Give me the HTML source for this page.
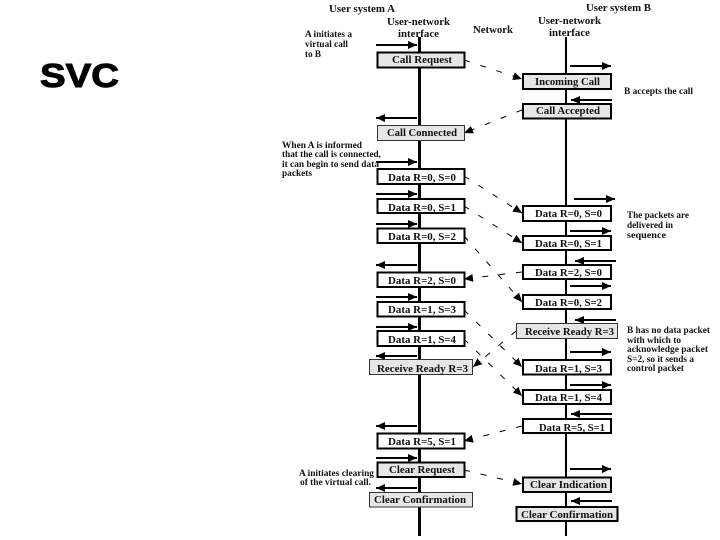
<!DOCTYPE html>
<html>
<head>
<meta charset="utf-8">
<style>
html,body{margin:0;padding:0;background:#fff;width:720px;height:540px;overflow:hidden}
svg{display:block}
text{font-family:"Liberation Serif",serif;fill:#111}
.h{font-size:10.5px;font-weight:bold}
.n{font-size:9px;font-weight:bold}
.b{font-size:11px;font-weight:bold}
.s{stroke:#000;stroke-width:2;fill:none}
.d{stroke:#000;stroke-width:1;fill:none;stroke-dasharray:6 11}
.w{fill:#fff;stroke:#000;stroke-width:2}
.g{fill:#e6e6e6;stroke:#000;stroke-width:2}
.t{fill:#e6e6e6;stroke:#333;stroke-width:1}
</style>
</head>
<body>
<svg width="720" height="540" viewBox="0 0 720 540" xmlns="http://www.w3.org/2000/svg">
<defs>
<marker id="a" markerUnits="userSpaceOnUse" markerWidth="10" markerHeight="8" refX="9" refY="4" orient="auto"><path d="M0 0L9 4L0 8z" fill="#000"/></marker>
<marker id="m" markerUnits="userSpaceOnUse" markerWidth="10" markerHeight="8" refX="9" refY="4" orient="auto"><path d="M0 0L9 4L0 8z" fill="#000"/></marker>
</defs>

<text x="40" y="87" textLength="79" lengthAdjust="spacingAndGlyphs" style="font-family:'Liberation Sans',sans-serif;font-size:33px;font-weight:bold;fill:#000;stroke:#000;stroke-width:1">SVC</text>

<line x1="419.5" y1="37" x2="419.5" y2="536" stroke="#000" stroke-width="3"/>
<line x1="566" y1="37" x2="566" y2="536" stroke="#000" stroke-width="2"/>

<g>
<line class="d" x1="464" y1="60" x2="522" y2="79" marker-end="url(#m)"/>
<line class="d" x1="522" y1="110" x2="464" y2="133" marker-end="url(#m)"/>
<line class="d" x1="464" y1="176" x2="522" y2="213" marker-end="url(#m)"/>
<line class="d" x1="464" y1="206" x2="522" y2="243" marker-end="url(#m)"/>
<line class="d" x1="464" y1="236" x2="522" y2="302" marker-end="url(#m)"/>
<line class="d" x1="522" y1="272" x2="464" y2="279" marker-end="url(#m)"/>
<line class="d" x1="464" y1="310" x2="522" y2="367" marker-end="url(#m)"/>
<line class="d" x1="464" y1="339" x2="522" y2="396" marker-end="url(#m)"/>
<line class="d" x1="516" y1="331" x2="473" y2="367" marker-end="url(#m)"/>
<line class="d" x1="522" y1="426" x2="464" y2="441" marker-end="url(#m)"/>
<line class="d" x1="464" y1="470" x2="522" y2="484" marker-end="url(#m)"/>
</g>

<g>
<line class="s" x1="376" y1="45" x2="417" y2="45" marker-end="url(#a)"/>
<line class="s" x1="417" y1="118" x2="376" y2="118" marker-end="url(#a)"/>
<line class="s" x1="376" y1="162" x2="417" y2="162" marker-end="url(#a)"/>
<line class="s" x1="376" y1="194" x2="417" y2="194" marker-end="url(#a)"/>
<line class="s" x1="376" y1="224" x2="417" y2="224" marker-end="url(#a)"/>
<line class="s" x1="417" y1="265" x2="376" y2="265" marker-end="url(#a)"/>
<line class="s" x1="376" y1="297" x2="417" y2="297" marker-end="url(#a)"/>
<line class="s" x1="376" y1="327" x2="417" y2="327" marker-end="url(#a)"/>
<line class="s" x1="417" y1="356" x2="376" y2="356" marker-end="url(#a)"/>
<line class="s" x1="417" y1="426" x2="376" y2="426" marker-end="url(#a)"/>
<line class="s" x1="376" y1="458" x2="417" y2="458" marker-end="url(#a)"/>
<line class="s" x1="417" y1="488" x2="376" y2="488" marker-end="url(#a)"/>

<line class="s" x1="570" y1="66" x2="611" y2="66" marker-end="url(#a)"/>
<line class="s" x1="612" y1="100" x2="571" y2="100" marker-end="url(#a)"/>
<line class="s" x1="574" y1="199" x2="615" y2="199" marker-end="url(#a)"/>
<line class="s" x1="570" y1="231" x2="611" y2="231" marker-end="url(#a)"/>
<line class="s" x1="616" y1="261" x2="575" y2="261" marker-end="url(#a)"/>
<line class="s" x1="570" y1="286" x2="611" y2="286" marker-end="url(#a)"/>
<line class="s" x1="616" y1="320" x2="575" y2="320" marker-end="url(#a)"/>
<line class="s" x1="570" y1="352" x2="611" y2="352" marker-end="url(#a)"/>
<line class="s" x1="570" y1="385" x2="611" y2="385" marker-end="url(#a)"/>
<line class="s" x1="612" y1="414" x2="571" y2="414" marker-end="url(#a)"/>
<line class="s" x1="570" y1="469" x2="611" y2="469" marker-end="url(#a)"/>
<line class="s" x1="612" y1="501" x2="571" y2="501" marker-end="url(#a)"/>
</g>

<g>
<rect class="g" x="377.5" y="52.5" width="87" height="15"/>
<rect class="t" x="377.5" y="125.5" width="87" height="15"/>
<rect class="w" x="377.5" y="169" width="87" height="15"/>
<rect class="w" x="377.5" y="199" width="87" height="14"/>
<rect class="w" x="377.5" y="228.5" width="87" height="14.5"/>
<rect class="w" x="377.5" y="272.5" width="87" height="14.5"/>
<rect class="w" x="377.5" y="302" width="87" height="14.5"/>
<rect class="w" x="377.5" y="331" width="87" height="15"/>
<rect class="t" x="369.5" y="359.5" width="103" height="15"/>
<rect class="w" x="377.5" y="433.5" width="87" height="15"/>
<rect class="g" x="377.5" y="462.5" width="87" height="14.5"/>
<rect class="t" x="369.5" y="492.5" width="103" height="14.5"/>

<rect class="g" x="523" y="74" width="88" height="15"/>
<rect class="g" x="523" y="104" width="88" height="14.5"/>
<rect class="w" x="523" y="206" width="88" height="15"/>
<rect class="w" x="523" y="236" width="88" height="14"/>
<rect class="w" x="523" y="265" width="88" height="14"/>
<rect class="w" x="523" y="295" width="88" height="14"/>
<rect class="t" x="516.5" y="323.5" width="101" height="15"/>
<rect class="w" x="523" y="360" width="88" height="14.5"/>
<rect class="w" x="523" y="390" width="88" height="14"/>
<rect class="w" x="523" y="419" width="88" height="14"/>
<rect class="g" x="523" y="477.5" width="88" height="14.5"/>
<rect class="g" x="516.5" y="507" width="101" height="14"/>
</g>

<g class="h">
<text x="329" y="12" textLength="66" lengthAdjust="spacingAndGlyphs">User system A</text>
<text x="387" y="25" textLength="63" lengthAdjust="spacingAndGlyphs">User-network</text>
<text x="398" y="37" textLength="41" lengthAdjust="spacingAndGlyphs">interface</text>
<text x="473" y="33" textLength="40" lengthAdjust="spacingAndGlyphs">Network</text>
<text x="586" y="11" textLength="65" lengthAdjust="spacingAndGlyphs">User system B</text>
<text x="538" y="24" textLength="63" lengthAdjust="spacingAndGlyphs">User-network</text>
<text x="549" y="36" textLength="41" lengthAdjust="spacingAndGlyphs">interface</text>
</g>

<g class="n">
<text x="305" y="37" textLength="47" lengthAdjust="spacingAndGlyphs">A initiates a</text>
<text x="305" y="47" textLength="43" lengthAdjust="spacingAndGlyphs">virtual call</text>
<text x="305" y="57" textLength="16" lengthAdjust="spacingAndGlyphs">to B</text>
<text x="282" y="148" textLength="80" lengthAdjust="spacingAndGlyphs">When A is informed</text>
<text x="282" y="157" textLength="99" lengthAdjust="spacingAndGlyphs">that the call is connected,</text>
<text x="282" y="167" textLength="97" lengthAdjust="spacingAndGlyphs">it can begin to send data</text>
<text x="282" y="176" textLength="30" lengthAdjust="spacingAndGlyphs">packets</text>
<text x="624" y="94" textLength="69" lengthAdjust="spacingAndGlyphs">B accepts the call</text>
<text x="627" y="218" textLength="62" lengthAdjust="spacingAndGlyphs">The packets are</text>
<text x="627" y="228" textLength="46" lengthAdjust="spacingAndGlyphs">delivered in</text>
<text x="627" y="238" textLength="39" lengthAdjust="spacingAndGlyphs">sequence</text>
<text x="627" y="333" textLength="83" lengthAdjust="spacingAndGlyphs">B has no data packet</text>
<text x="627" y="343" textLength="54" lengthAdjust="spacingAndGlyphs">with which to</text>
<text x="627" y="352" textLength="81" lengthAdjust="spacingAndGlyphs">acknowledge packet</text>
<text x="627" y="362" textLength="67" lengthAdjust="spacingAndGlyphs">S=2, so it sends a</text>
<text x="627" y="371" textLength="57" lengthAdjust="spacingAndGlyphs">control packet</text>
<text x="299" y="476" textLength="75" lengthAdjust="spacingAndGlyphs">A initiates clearing</text>
<text x="300" y="485" textLength="71" lengthAdjust="spacingAndGlyphs">of the virtual call.</text>
</g>

<g class="b">
<text x="392" y="63" textLength="60" lengthAdjust="spacingAndGlyphs">Call Request</text>
<text x="387" y="136" textLength="70" lengthAdjust="spacingAndGlyphs">Call Connected</text>
<text x="388" y="181" textLength="68" lengthAdjust="spacingAndGlyphs">Data R=0, S=0</text>
<text x="388" y="211" textLength="68" lengthAdjust="spacingAndGlyphs">Data R=0, S=1</text>
<text x="388" y="240" textLength="68" lengthAdjust="spacingAndGlyphs">Data R=0, S=2</text>
<text x="388" y="284" textLength="68" lengthAdjust="spacingAndGlyphs">Data R=2, S=0</text>
<text x="388" y="313" textLength="68" lengthAdjust="spacingAndGlyphs">Data R=1, S=3</text>
<text x="388" y="343" textLength="68" lengthAdjust="spacingAndGlyphs">Data R=1, S=4</text>
<text x="377" y="372" textLength="91" lengthAdjust="spacingAndGlyphs">Receive Ready R=3</text>
<text x="388" y="445" textLength="68" lengthAdjust="spacingAndGlyphs">Data R=5, S=1</text>
<text x="389" y="473" textLength="66" lengthAdjust="spacingAndGlyphs">Clear Request</text>
<text x="374" y="503" textLength="92" lengthAdjust="spacingAndGlyphs">Clear Confirmation</text>

<text x="535" y="85" textLength="65" lengthAdjust="spacingAndGlyphs">Incoming Call</text>
<text x="536" y="114" textLength="64" lengthAdjust="spacingAndGlyphs">Call Accepted</text>
<text x="535" y="217" textLength="67" lengthAdjust="spacingAndGlyphs">Data R=0, S=0</text>
<text x="535" y="247" textLength="67" lengthAdjust="spacingAndGlyphs">Data R=0, S=1</text>
<text x="535" y="276" textLength="67" lengthAdjust="spacingAndGlyphs">Data R=2, S=0</text>
<text x="535" y="306" textLength="67" lengthAdjust="spacingAndGlyphs">Data R=0, S=2</text>
<text x="525" y="335" textLength="89" lengthAdjust="spacingAndGlyphs">Receive Ready R=3</text>
<text x="535" y="372" textLength="67" lengthAdjust="spacingAndGlyphs">Data R=1, S=3</text>
<text x="535" y="401" textLength="67" lengthAdjust="spacingAndGlyphs">Data R=1, S=4</text>
<text x="539" y="431" textLength="66" lengthAdjust="spacingAndGlyphs">Data R=5, S=1</text>
<text x="530" y="488" textLength="77" lengthAdjust="spacingAndGlyphs">Clear Indication</text>
<text x="521" y="518" textLength="92" lengthAdjust="spacingAndGlyphs">Clear Confirmation</text>
</g>
</svg>
</body>
</html>
